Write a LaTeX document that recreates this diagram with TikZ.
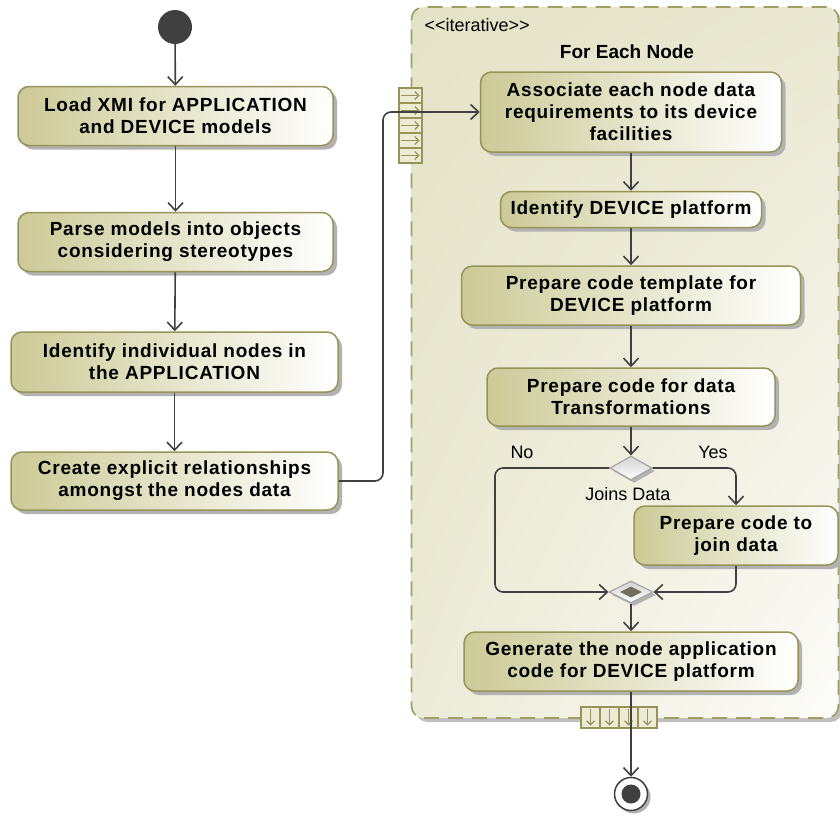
\documentclass[tikz,border=0pt]{standalone}
\usepackage{fontspec}
\setmainfont{Liberation Sans}
\newfontfamily\actfont{Liberation Sans}[LetterSpace=4]
\usepackage{tikz}
\usetikzlibrary{arrows.meta, positioning, shapes.geometric, shadows, shadings}
\definecolor{cbox}{RGB}{204,202,150}
\definecolor{cborder}{RGB}{150,148,88}
\definecolor{cregion}{RGB}{228,226,198}
\definecolor{cdash}{RGB}{160,158,100}
\definecolor{cline}{RGB}{64,64,64}
\definecolor{cpin}{RGB}{236,235,212}
\definecolor{cmerge}{RGB}{112,112,88}

\begin{document}
\begin{tikzpicture}[
    x=1pt, y=-1pt,
    every node/.style={font=\fontsize{18}{22}\selectfont},
    action/.style={draw=cborder, line width=1.5pt, rounded corners=11pt,
        left color=cbox, right color=white, align=center, inner sep=0pt,
        font=\actfont\bfseries\fontsize{19}{22}\selectfont,
        drop shadow={shadow xshift=4pt, shadow yshift=-4pt, fill=black!30, opacity=1}},
    flow/.style={cline, line width=1.6pt, -{Straight Barb[length=8pt, width=15pt]}},
    decision/.style={diamond, draw=gray!70, line width=1.2pt, inner sep=0pt,
        minimum width=42pt, minimum height=24pt, top color=gray!35, bottom color=white,
        drop shadow={shadow xshift=3pt, shadow yshift=-3pt, fill=black!30, opacity=1}},
    pinbox/.style={draw=cborder, fill=cpin, line width=1.2pt, inner sep=0pt},
    pinarrow/.style={cborder, line width=1.2pt, -{Straight Barb[length=4pt, width=8pt]}},
]
    \useasboundingbox (0,0) rectangle (840,816);

    % Expansion region
    \node[draw=cdash, line width=1.6pt, dash pattern=on 15pt off 9pt, rounded corners=12pt,
        upper left=cregion, lower right=white!90!cregion, lower left=cregion!70!white,
        upper right=cregion!80!white, inner sep=0pt, minimum width=427pt, minimum height=711pt,
        drop shadow={shadow xshift=4pt, shadow yshift=-4pt, fill=black!25, opacity=1}]
        (loop) at (625,362.5) {};
    \node[anchor=west] (stereo) at (421,25) {<{}<iterative>{}>};
    \node[font=\bfseries\fontsize{19}{22}\selectfont] (loopname) at (627,52) {For Each Node};

    % Left column
    \node[circle, fill=cline, minimum size=34pt, inner sep=0pt] (start) at (175,27) {};
    \node[action, minimum width=315pt, minimum height=59pt] (load) at (175.5,116)
        {Load XMI for APPLICATION\\and DEVICE models};
    \node[action, minimum width=315pt, minimum height=59pt] (parse) at (175.5,242)
        {Parse models into objects\\considering stereotypes};
    \node[action, minimum width=327pt, minimum height=60pt] (ident) at (174.5,362)
        {Identify individual nodes in\\the APPLICATION};
    \node[action, minimum width=327pt, minimum height=58pt] (create) at (174.5,481)
        {Create explicit relationships\\amongst the nodes data};

    \draw[flow] (start) -- (load);
    \draw[flow] (load) -- (parse);
    \draw[flow] (parse) -- (ident);
    \draw[flow] (ident) -- (create);

    % Right column (inside the region)
    \node[action, minimum width=301pt, minimum height=80pt] (assoc) at (631,112)
        {Associate each node data\\requirements to its device\\facilities};
    \node[action, minimum width=261pt, minimum height=36pt] (platform) at (631,209.5)
        {Identify DEVICE platform};
    \node[action, minimum width=339pt, minimum height=59pt] (template) at (631,295.5)
        {Prepare code template for\\DEVICE platform};
    \node[action, minimum width=288pt, minimum height=58pt] (transf) at (631,397)
        {Prepare code for data\\Transformations};
    \node[decision] (joins) at (631,468) {};
    \node[action, minimum width=204pt, minimum height=59pt] (joindata) at (736,535.5)
        {Prepare code to\\join data};
    \node[decision, minimum width=44pt, minimum height=22pt] (merge) at (631,592) {};
    \node[diamond, fill=cmerge, inner sep=0pt, minimum width=22pt, minimum height=11pt]
        (mergein) at (merge.center) {};
    \node[action, minimum width=334pt, minimum height=59pt] (generate) at (631,661.5)
        {Generate the node application\\code for DEVICE platform};

    % Guard labels
    \node (no) at (522,452) {No};
    \node (yes) at (713,452) {Yes};
    \node (joinlbl) at (628,494) {Joins Data};

    % Input and output pins
    \foreach \i in {0,...,4} {
        \node[pinbox, minimum width=23pt, minimum height=15pt] (inpin\i) at (410.5,95.5+15*\i) {};
        \draw[pinarrow] ([xshift=3pt]inpin\i.west) -- ([xshift=-3pt]inpin\i.east);
    }
    \foreach \i in {0,...,3} {
        \node[pinbox, minimum width=19pt, minimum height=21pt] (outpin\i) at (590.5+19*\i,717.5) {};
        \draw[pinarrow] ([yshift=-3pt]outpin\i.north) -- ([yshift=3pt]outpin\i.south);
    }

    % Final node
    \node[circle, draw=cline, fill=white, line width=1.5pt, minimum size=33pt, inner sep=0pt,
        drop shadow={shadow xshift=3pt, shadow yshift=-3pt, fill=black!30, opacity=1}]
        (stop) at (631,794) {};
    \node[circle, fill=cline, minimum size=19pt, inner sep=0pt] (stopin) at (stop.center) {};

    % Connectors
    \coordinate (bend) at (383,300);
    \coordinate (nobend) at (495,530);
    \draw[flow, rounded corners=8pt] (create.east) -| (bend) |- (assoc.west);
    \draw[flow] (assoc) -- (platform);
    \draw[flow] (platform) -- (template);
    \draw[flow] (template) -- (transf);
    \draw[flow] (transf) -- (joins);
    \draw[flow, rounded corners=8pt] (joins.west) -| (nobend) |- (merge.west);
    \draw[flow, rounded corners=8pt] (joins.east) -| (joindata.north);
    \draw[flow, rounded corners=8pt] (joindata.south) |- (merge.east);
    \draw[flow] (merge) -- (generate);
    \draw[flow] (generate) -- (stop);
\end{tikzpicture}
\end{document}
